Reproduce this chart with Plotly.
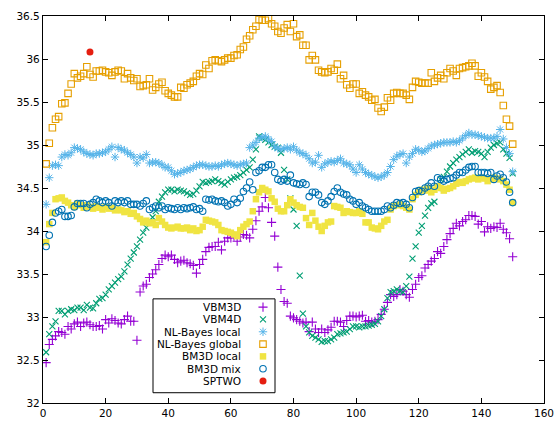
import plotly.graph_objects as go

frames = list(range(1, 151))

vbm3d = [
    32.47, 32.68, 32.74, 32.78, 32.83, 32.82, 32.80, 32.89, 32.86, 32.92,
    32.94, 32.89, 32.93, 32.94, 32.91, 32.89, 32.89, 32.90, 32.86, 32.97,
    32.93, 32.98, 32.96, 32.93, 32.92, 32.97, 33.01, 32.95, 32.95, 32.73,
    33.29, 33.36, 33.38, 33.46, 33.50, 33.55, 33.61, 33.68, 33.72, 33.70,
    33.72, 33.67, 33.63, 33.65, 33.66, 33.63, 33.62, 33.60, 33.51, 33.61,
    33.67, 33.76, 33.81, 33.82, 33.82, 33.87, 33.78, 33.88, 33.92, 33.92,
    33.94, 33.88, 33.93, 33.96, 33.95, 33.92, 34.02, 34.12, 34.23, 34.28,
    34.39, 34.27, 34.10, 33.94, 33.58, 33.32, 33.18, 33.16, 33.01, 32.99,
    32.97, 32.95, 32.93, 32.94, 32.83, 32.94, 32.86, 32.82, 32.86, 32.82,
    32.85, 32.88, 32.95, 32.95, 32.94, 32.89, 32.96, 33.01, 33.01, 33.00,
    33.01, 33.02, 32.95, 32.96, 32.94, 32.95, 32.97, 33.03, 33.09, 33.17,
    33.26, 33.24, 33.26, 33.32, 33.30, 33.26, 33.23, 33.32, 33.38, 33.46,
    33.48, 33.57, 33.61, 33.65, 33.68, 33.76, 33.74, 33.82, 33.90, 33.97,
    34.03, 34.09, 34.06, 34.11, 34.13, 34.18, 34.18, 34.17, 34.08, 34.11,
    33.99, 34.05, 34.03, 34.05, 34.04, 34.09, 34.02, 33.98, 33.91, 33.70,
]

vbm4d = [
    32.59, 32.80, 32.89, 32.95, 33.07, 33.07, 33.03, 33.07, 33.09, 33.08,
    33.11, 33.11, 33.08, 33.14, 33.11, 33.10, 33.16, 33.21, 33.22, 33.26,
    33.32, 33.36, 33.40, 33.44, 33.47, 33.53, 33.61, 33.68, 33.75, 33.82,
    33.90, 33.98, 34.04, 34.10, 34.16, 34.23, 34.34, 34.40, 34.45, 34.48,
    34.48, 34.46, 34.48, 34.47, 34.46, 34.44, 34.42, 34.43, 34.47, 34.52,
    34.57, 34.56, 34.57, 34.58, 34.60, 34.58, 34.56, 34.54, 34.57, 34.60,
    34.62, 34.63, 34.65, 34.68, 34.71, 34.74, 34.83, 34.95, 35.10, 35.08,
    35.06, 35.03, 35.00, 34.98, 34.97, 34.91, 34.71, 34.60, 34.38, 34.25,
    34.06, 33.48, 33.04, 32.89, 32.82, 32.78, 32.76, 32.74, 32.71, 32.72,
    32.72, 32.74, 32.76, 32.80, 32.81, 32.82, 32.83, 32.86, 32.89, 32.89,
    32.88, 32.89, 32.89, 32.90, 32.91, 32.92, 32.95, 33.01, 33.09, 33.22,
    33.29, 33.30, 33.32, 33.30, 33.29, 33.36, 33.47, 33.68, 33.82, 33.98,
    34.06, 34.18, 34.27, 34.32, 34.34, 34.50, 34.60, 34.63, 34.69, 34.75,
    34.79, 34.83, 34.86, 34.89, 34.92, 34.95, 34.91, 34.93, 34.92, 34.90,
    34.86, 34.92, 34.97, 35.00, 35.02, 35.03, 34.95, 34.90, 34.85, 34.67,
]

nlb_local = [
    34.31, 34.62, 34.76, 34.77, 34.76, 34.86, 34.89, 34.88, 34.91, 34.97,
    34.96, 34.95, 34.92, 34.90, 34.89, 34.88, 34.90, 34.90, 34.91, 34.92,
    34.95, 34.98, 34.86, 34.97, 34.95, 34.94, 34.91, 34.89, 34.86, 34.79,
    34.86, 34.85, 34.89, 34.79, 34.80, 34.80, 34.79, 34.77, 34.74, 34.74,
    34.70, 34.66, 34.67, 34.68, 34.70, 34.71, 34.72, 34.74, 34.76, 34.77,
    34.77, 34.76, 34.75, 34.75, 34.76, 34.75, 34.77, 34.78, 34.79, 34.78,
    34.77, 34.76, 34.77, 34.78, 34.79, 34.97, 35.00, 35.03, 35.08, 35.09,
    35.10, 35.07, 35.04, 34.98, 34.96, 34.95, 34.96, 34.97, 34.95, 34.98,
    34.94, 34.91, 34.90, 34.88, 34.84, 34.79, 34.80, 34.88, 34.74, 34.78,
    34.80, 34.81, 34.80, 34.82, 34.84, 34.79, 34.78, 34.77, 34.72, 34.68,
    34.77, 34.72, 34.68, 34.66, 34.65, 34.63, 34.62, 34.63, 34.65, 34.68,
    34.75, 34.83, 34.87, 34.89, 34.90, 34.79, 34.86, 34.90, 34.95, 34.94,
    34.92, 34.93, 34.96, 34.99, 35.00, 35.01, 35.02, 35.03, 35.03, 35.03,
    35.04, 35.03, 35.05, 35.08, 35.11, 35.14, 35.12, 35.12, 35.11, 35.10,
    35.09, 35.08, 35.08, 35.08, 35.10, 35.18, 35.07, 34.97, 34.90, 34.69,
]

nlb_global = [
    34.78, 35.02, 35.20, 35.30, 35.33, 35.48, 35.49, 35.60, 35.71, 35.83,
    35.78, 35.80, 35.83, 35.91, 35.82, 35.79, 35.86, 35.86, 35.87, 35.85,
    35.84, 35.81, 35.85, 35.87, 35.86, 35.77, 35.83, 35.78, 35.75, 35.77,
    35.68, 35.69, 35.70, 35.77, 35.64, 35.67, 35.71, 35.73, 35.63, 35.60,
    35.58, 35.56, 35.56, 35.67, 35.66, 35.70, 35.72, 35.74, 35.80, 35.83,
    35.82, 35.93, 35.89, 35.98, 35.99, 35.98, 35.97, 35.99, 36.01, 36.01,
    36.04, 36.05, 36.11, 36.14, 36.23, 36.27, 36.34, 36.38, 36.46, 36.45,
    36.45, 36.47, 36.41, 36.38, 36.32, 36.30, 36.36, 36.40, 36.32, 36.41,
    36.26, 36.28, 36.16, 36.16, 35.99, 36.04, 35.99, 35.87, 35.85, 35.84,
    35.85, 35.89, 35.87, 35.94, 35.77, 35.81, 35.70, 35.66, 35.71, 35.71,
    35.60, 35.62, 35.58, 35.56, 35.52, 35.53, 35.43, 35.39, 35.44, 35.55,
    35.52, 35.60, 35.61, 35.60, 35.60, 35.58, 35.53, 35.67, 35.74, 35.73,
    35.72, 35.72, 35.72, 35.84, 35.74, 35.78, 35.81, 35.77, 35.84, 35.89,
    35.86, 35.81, 35.89, 35.90, 35.91, 35.92, 35.95, 35.92, 35.80, 35.84,
    35.79, 35.74, 35.65, 35.67, 35.69, 35.61, 35.46, 35.30, 35.22, 35.01,
]

bm3d_local = [
    33.87, 34.08, 34.21, 34.37, 34.38, 34.39, 34.35, 34.33, 34.30, 34.28,
    34.32, 34.30, 34.27, 34.30, 34.28, 34.26, 34.29, 34.27, 34.25, 34.28,
    34.26, 34.27, 34.24, 34.25, 34.24, 34.22, 34.23, 34.20, 34.21, 34.17,
    34.14, 34.10, 34.12, 34.09, 34.10, 34.07, 34.15, 34.11, 34.07, 34.04,
    34.03, 34.04, 34.05, 34.03, 34.03, 34.04, 34.01, 34.03, 34.00, 34.01,
    34.05, 34.13, 34.12, 34.11, 34.10, 34.07, 34.01, 34.00, 33.99, 33.98,
    33.96, 33.94, 34.01, 34.05, 34.08, 34.11, 34.23, 34.37, 34.45, 34.50,
    34.48, 34.46, 34.38, 34.34, 34.26, 34.23, 34.23, 34.30, 34.37, 34.33,
    34.30, 34.28, 34.27, 34.15, 34.07, 34.21, 34.12, 34.05, 34.00, 34.06,
    34.10, 34.11, 34.29, 34.28, 34.27, 34.21, 34.23, 34.22, 34.21, 34.21,
    34.23, 34.20, 34.10, 34.10, 34.04, 34.03, 34.02, 34.06, 34.11, 34.13,
    34.25, 34.29, 34.30, 34.31, 34.29, 34.27, 34.25, 34.37, 34.42, 34.45,
    34.48, 34.47, 34.50, 34.45, 34.48, 34.52, 34.50, 34.47, 34.49, 34.50,
    34.52, 34.55, 34.57, 34.56, 34.58, 34.60, 34.61, 34.62, 34.60, 34.62,
    34.61, 34.58, 34.60, 34.62, 34.61, 34.60, 34.58, 34.54, 34.48, 34.33,
]

bm3d_mix = [
    33.82, 33.95, 34.10, 34.21, 34.23, 34.25, 34.17, 34.17, 34.18, 34.28,
    34.32, 34.32, 34.32, 34.27, 34.31, 34.33, 34.37, 34.35, 34.33, 34.35,
    34.33, 34.29, 34.35, 34.33, 34.35, 34.33, 34.35, 34.31, 34.31, 34.31,
    34.29, 34.32, 34.35, 34.25, 34.27, 34.29, 34.27, 34.29, 34.25, 34.27,
    34.26, 34.25, 34.27, 34.25, 34.27, 34.26, 34.27, 34.28, 34.25, 34.26,
    34.23, 34.37, 34.36, 34.37, 34.35, 34.34, 34.35, 34.33, 34.29, 34.31,
    34.37, 34.33, 34.38, 34.46, 34.50, 34.57, 34.48, 34.68, 34.70, 34.74,
    34.74, 34.77, 34.77, 34.68, 34.60, 34.58, 34.60, 34.58, 34.65, 34.56,
    34.55, 34.54, 34.56, 34.54, 34.40, 34.45, 34.45, 34.42, 34.33, 34.31,
    34.35, 34.40, 34.46, 34.50, 34.45, 34.43, 34.42, 34.37, 34.35, 34.31,
    34.33, 34.29, 34.27, 34.25, 34.23, 34.23, 34.23, 34.23, 34.25, 34.29,
    34.27, 34.30, 34.33, 34.32, 34.33, 34.31, 34.27, 34.39, 34.46, 34.47,
    34.46, 34.50, 34.52, 34.56, 34.52, 34.62, 34.60, 34.58, 34.60, 34.61,
    34.62, 34.65, 34.68, 34.68, 34.71, 34.74, 34.75, 34.75, 34.68, 34.68,
    34.68, 34.67, 34.68, 34.60, 34.64, 34.66, 34.62, 34.57, 34.45, 34.33,
]

sptwo_x = [15]
sptwo_y = [36.08]

names = ["VBM3D", "VBM4D", "NL-Bayes local", "NL-Bayes global",
         "BM3D local", "BM3D mix", "SPTWO"]

x_ticks = [0, 20, 40, 60, 80, 100, 120, 140, 160]
y_ticks = [32, 32.5, 33, 33.5, 34, 34.5, 35, 35.5, 36, 36.5]
y_tick_text = ["32", "32.5", "33", "33.5", "34", "34.5", "35", "35.5", "36", "36.5"]

styles = [
    dict(symbol="cross-thin-open", size=6.5, color="#9400D3", line=dict(color="#9400D3", width=1.1)),
    dict(symbol="x-thin-open", size=6, color="#009E73", line=dict(color="#009E73", width=1.1)),
    dict(symbol="asterisk-open", size=7, color="#56B4E9", line=dict(color="#56B4E9", width=1.0)),
    dict(symbol="square-open", size=6.5, color="#E69F00", line=dict(color="#E69F00", width=1.1)),
    dict(symbol="square", size=6.5, color="#F0E442", line=dict(width=0)),
    dict(symbol="circle-open", size=6.5, color="#0072B2", line=dict(color="#0072B2", width=1.1)),
    dict(symbol="circle", size=7, color="#E51E10", line=dict(width=0)),
]

series = [vbm3d, vbm4d, nlb_local, nlb_global, bm3d_local, bm3d_mix]

FONT = "DejaVu Sans"
fig = go.Figure()

for name, ys, st in zip(names[:6], series, styles[:6]):
    fig.add_trace(go.Scatter(x=frames, y=ys, mode="markers", name=name,
                             marker=st, showlegend=False, cliponaxis=True))
fig.add_trace(go.Scatter(x=sptwo_x, y=sptwo_y, mode="markers", name=names[6],
                         marker=styles[6], showlegend=False))

# custom gnuplot-style key (text right-aligned, sample on the right)
L, T, R, B = 153, 299, 275, 393
row0, rowstep = 307.3, 12.33
fig.add_shape(type="rect", xref="x2", yref="y2", x0=L, x1=R, y0=T, y1=B,
              line=dict(color="black", width=1), fillcolor="white", layer="below")
for i, (name, st) in enumerate(zip(names, styles)):
    yy = row0 + rowstep * i
    fig.add_annotation(x=243, y=yy, xref="x2", yref="y2", text=name, showarrow=False,
                       xanchor="right", yanchor="middle",
                       font=dict(family=FONT, size=10.5, color="black"))
    fig.add_trace(go.Scatter(x=[263], y=[yy], xaxis="x2", yaxis="y2", mode="markers",
                             marker=st, showlegend=False, hoverinfo="skip"))

axis_common = dict(showline=True, linecolor="black", linewidth=1.2, mirror="ticks",
                   ticks="inside", ticklen=5, tickcolor="black", showgrid=False,
                   zeroline=False, automargin=False,
                   tickfont=dict(family=FONT, size=10.5, color="black"))

fig.update_layout(
    width=557, height=423,
    margin=dict(l=43, r=13, t=16, b=20, pad=0),
    paper_bgcolor="white", plot_bgcolor="white",
    xaxis=dict(range=[0, 160], tickvals=x_ticks, **axis_common),
    yaxis=dict(range=[32, 36.5], tickvals=y_ticks, ticktext=y_tick_text, **axis_common),
    xaxis2=dict(range=[43, 544], domain=[0, 1], anchor="y2", overlaying="x", visible=False),
    yaxis2=dict(range=[403.3, 15.7], domain=[0, 1], anchor="x2", overlaying="y", visible=False),
    showlegend=False,
)

fig.write_html("out.html", config={"displayModeBar": False},
               post_script="document.body.style.margin='0';document.body.style.padding='0';")
